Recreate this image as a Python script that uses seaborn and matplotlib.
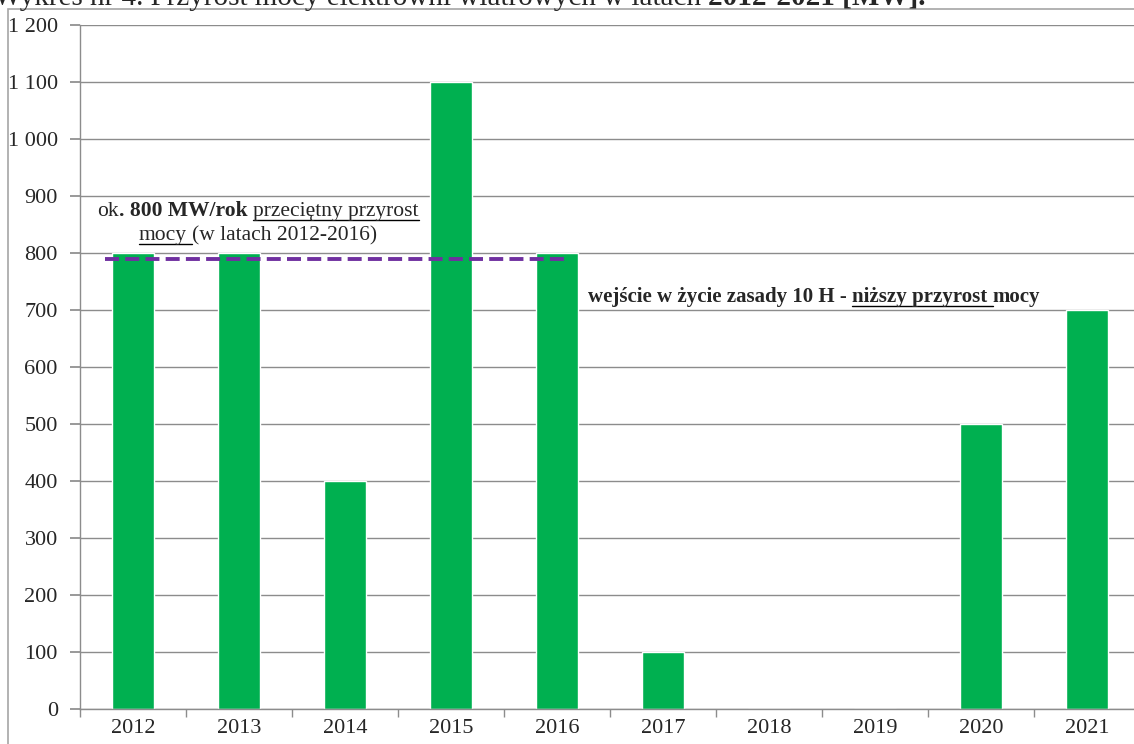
import matplotlib
matplotlib.use("Agg")
import matplotlib.pyplot as plt
import seaborn as sns
from matplotlib.lines import Line2D
from matplotlib.patches import Rectangle

# --- data ---
years = ["2012", "2013", "2014", "2015", "2016", "2017", "2018", "2019", "2020", "2021"]
growth_mw = [800, 800, 400, 1100, 800, 100, 0, 0, 500, 700]
avg_growth = 790          # dashed average line (2012-2016)
y_ticks = list(range(0, 1300, 100))

GREEN = "#00B050"
PURPLE = "#7030A0"
GRID = "#8C8C8C"
FONT = "Liberation Serif"

W, H = 1134, 744
sns.set_theme(style="white")
plt.rcParams["font.family"] = [FONT, "DejaVu Serif"]

fig = plt.figure(figsize=(W / 100, H / 100), dpi=100)
ax = fig.add_axes([80 / W, 1 - 709 / H, 1060 / W, 684 / H])

sns.barplot(x=years, y=growth_mw, color=GREEN, saturation=1, width=0.4, ax=ax)

# average line over 2012-2016
ax.plot([-0.26, 4.08], [avg_growth, avg_growth], color=PURPLE, lw=2.8,
        dashes=(3.6, 1.6), solid_capstyle="butt", zorder=5)

ax.set_xlim(-0.5, 9.5)
ax.set_ylim(0, 1200)
ax.set_yticks(y_ticks)
ax.set_yticklabels([f"{v:,}".replace(",", " ") for v in y_ticks])
ax.set_xlabel("")
ax.set_ylabel("")
ax.yaxis.grid(True, color=GRID, lw=1)
ax.set_axisbelow(True)
for s in ["top", "right"]:
    ax.spines[s].set_visible(False)
for s in ["left", "bottom"]:
    ax.spines[s].set_color(GRID)
    ax.spines[s].set_linewidth(1)

# Excel-style x ticks between categories
ax.set_xticks([i - 0.5 for i in range(len(years) + 1)], minor=True)
ax.tick_params(axis="x", which="minor", length=6, color=GRID, direction="out", bottom=True)
ax.tick_params(axis="x", which="major", length=0, pad=7, labelsize=16)
ax.tick_params(axis="y", length=7, color=GRID, direction="out", left=True, pad=9, labelsize=16)

# outer chart border (cropped)
fig.patches.append(Rectangle((8 / W, -0.1), 1.2, 1.1 - 9.5 / H, transform=fig.transFigure,
                             fill=False, edgecolor="#A6A6A6", lw=1.2))

fig.canvas.draw()
renderer = fig.canvas.get_renderer()


def measure(s, weight, size):
    t = fig.text(0, 0, s, fontsize=size, fontweight=weight)
    w = t.get_window_extent(renderer).width
    t.remove()
    return w


def rich_line(pieces, x, y, size, center=False):
    # pieces: (text, bold, underline, space_after); x, y in pixels from top-left
    widths = []
    for txt, bold, ul, gap in pieces:
        wgt = "bold" if bold else "normal"
        w = measure(txt, wgt, size)
        g = (measure("n n", wgt, size) - measure("nn", wgt, size)) if gap else 0
        widths.append((w, g))
    total = sum(w + g for w, g in widths)
    cx = x - total / 2 if center else x
    for (txt, bold, ul, gap), (w, g) in zip(pieces, widths):
        fig.text(cx / W, 1 - y / H, txt, fontsize=size, va="baseline", ha="left",
                 fontweight="bold" if bold else "normal")
        if ul:
            uy = 1 - (y + size * 0.25) / H
            fig.add_artist(Line2D([cx / W, (cx + w + g) / W], [uy, uy], color="black",
                                  lw=1.0, transform=fig.transFigure))
        cx += w + g


# title, cropped at the top edge
rich_line([("Wykres nr 4. Przyrost mocy elektrowni wiatrowych w latach", False, False, True),
           ("2012-2021 [MW].", True, False, False)], -6, 5, 21)

rich_line([("ok", False, False, False), (". 800 MW/rok", True, False, True),
           ("przeciętny przyrost", False, True, False)], 258, 216, 15.5, center=True)
rich_line([("mocy", False, True, True), ("(w latach 2012-2016)", False, False, False)],
          258, 240, 15.5, center=True)

rich_line([("wejście w życie zasady 10 H -", True, False, True),
           ("niższy przyrost", True, True, True), ("mocy", True, False, False)],
          588, 302, 15)

fig.savefig("out.png", dpi=100)
